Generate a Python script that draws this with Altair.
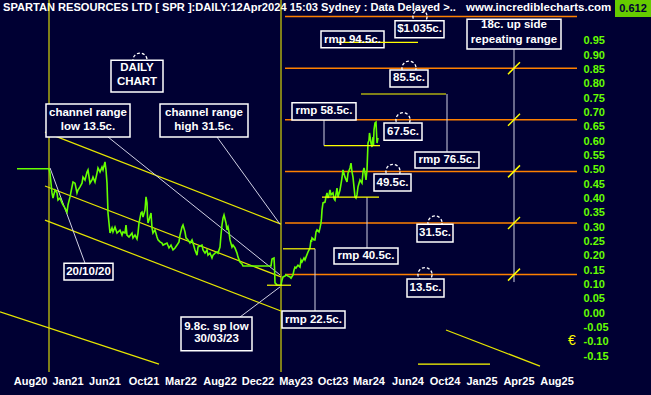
import altair as alt
import pandas as pd

BG = "#000033"
GREEN = "#66FF00"
YELLOW = "#FFFF00"
ORANGE = "#FF8000"
WHITE = "#FFFFFF"
GREY = "#D0D0E4"
FONT = "Liberation Sans"

W, H = 578, 372
xs = alt.Scale(domain=[0, 578], nice=False, zero=False)
ys = alt.Scale(domain=[-0.2047, 1.0928], nice=False, zero=False)

# ---------------- data ----------------
title_text = "SPARTAN RESOURCES LTD [ SPR ]:DAILY:12Apr2024 15:03 Sydney : Data Delayed >.."
site_text = "www.incrediblecharts.com"
last_price = "0.612"

# x axis (bar position -> month label)
xtick_pos = [30.6, 68, 105, 144, 181, 220, 258, 296, 333, 369, 408, 445, 482, 519, 557]
xtick_lab = ["Aug20", "Jan21", "Jun21", "Oct21", "Mar22", "Aug22", "Dec22", "May23",
             "Oct23", "Mar24", "Jun24", "Oct24", "Jan25", "Apr25", "Aug25"]
ytick_vals = [-0.15, -0.10, -0.05, 0.00, 0.05, 0.10, 0.15, 0.20, 0.25, 0.30, 0.35, 0.40,
              0.45, 0.50, 0.55, 0.60, 0.65, 0.70, 0.75, 0.80, 0.85, 0.90, 0.95]

# price series (bar position, close)
bars = [17, 49, 50, 52, 53, 55, 57, 58, 60, 62,
        63, 65, 67, 68, 70, 72, 73, 75, 77, 78,
        80, 82, 83, 85, 87, 88, 90, 92, 93, 95,
        97, 98, 100, 102, 103, 105, 106, 107, 108, 109,
        110, 112, 113, 115, 117, 120, 122, 123, 125, 126,
        127, 129, 132, 133, 135, 137, 138, 139, 141, 142,
        143, 145, 146, 147, 147.5, 148, 149, 151, 152, 153,
        155, 157, 158, 160, 162, 163, 167, 169, 171, 173,
        175, 177, 179, 180, 182, 183, 185, 186, 188, 190,
        192, 193, 195, 197, 198, 200, 202, 203, 205, 207,
        208, 210, 212, 213, 215, 217, 218, 220, 221, 222,
        223, 224, 226, 227, 228, 229, 230, 232, 233, 235,
        237, 238, 240, 242, 243, 271, 272, 274, 274.5, 275,
        277, 279, 281, 282, 283, 285, 286, 288, 290, 291,
        293, 294, 295, 296, 298, 300, 301, 302, 304, 305,
        306, 308, 310, 311, 311.5, 312, 314, 315, 316, 317,
        319, 320, 321, 321.5, 322, 323, 325, 326, 327, 328,
        329, 330, 331, 333, 334, 335, 337, 338, 340, 342,
        343, 345, 347, 348, 350, 351, 352, 353, 355, 356,
        357, 358, 360, 362, 363, 364, 365, 366, 367, 368,
        369, 369.5, 371, 372, 373, 373.5, 374, 375, 376, 377, 378]
close = [0.504, 0.504, 0.489, 0.420, 0.402, 0.430, 0.420, 0.395, 0.402, 0.385,
         0.378, 0.367, 0.353, 0.378, 0.406, 0.441, 0.458, 0.454, 0.420, 0.430,
         0.441, 0.454, 0.475, 0.465, 0.493, 0.500, 0.454, 0.465, 0.475, 0.458,
         0.489, 0.507, 0.493, 0.510, 0.500, 0.528, 0.500, 0.454, 0.350, 0.315,
         0.280, 0.298, 0.284, 0.301, 0.280, 0.290, 0.273, 0.284, 0.280, 0.308,
         0.273, 0.266, 0.280, 0.263, 0.273, 0.259, 0.280, 0.315, 0.350, 0.353,
         0.336, 0.360, 0.406, 0.385, 0.336, 0.315, 0.325, 0.350, 0.298, 0.280,
         0.291, 0.266, 0.256, 0.249, 0.245, 0.238, 0.245, 0.228, 0.238, 0.221,
         0.228, 0.238, 0.249, 0.273, 0.301, 0.308, 0.284, 0.263, 0.256, 0.245,
         0.256, 0.245, 0.221, 0.203, 0.231, 0.235, 0.238, 0.221, 0.210, 0.221,
         0.203, 0.210, 0.193, 0.203, 0.210, 0.214, 0.210, 0.231, 0.273, 0.308,
         0.332, 0.343, 0.315, 0.291, 0.301, 0.284, 0.256, 0.231, 0.238, 0.228,
         0.210, 0.196, 0.179, 0.172, 0.165, 0.165, 0.189, 0.193, 0.161, 0.106,
         0.099, 0.098, 0.099, 0.116, 0.127, 0.130, 0.134, 0.130, 0.127, 0.123,
         0.134, 0.151, 0.161, 0.158, 0.168, 0.161, 0.186, 0.179, 0.193, 0.186,
         0.196, 0.214, 0.228, 0.256, 0.249, 0.263, 0.256, 0.256, 0.284, 0.291,
         0.284, 0.298, 0.315, 0.332, 0.360, 0.385, 0.388, 0.406, 0.420, 0.402,
         0.413, 0.430, 0.413, 0.420, 0.400, 0.395, 0.437, 0.406, 0.430, 0.472,
         0.500, 0.475, 0.458, 0.489, 0.507, 0.524, 0.493, 0.475, 0.406, 0.402,
         0.413, 0.441, 0.465, 0.454, 0.493, 0.507, 0.489, 0.465, 0.500, 0.594,
         0.604, 0.629, 0.594, 0.580, 0.615, 0.587, 0.640, 0.664, 0.667, 0.594, 0.612]

# repeating 18c range levels (orange)
levels = [0.135, 0.315, 0.495, 0.675, 0.855, 1.035]
level_x1, level_x2 = 285, 577

# yellow vertical markers (20/10/20 and 30/03/23)
vmarks = [49, 281]

# yellow trend / channel lines: x1, y1, x2, y2
chan_x1 = [45, 45, 45, 0, 446]
chan_y1 = [0.632, 0.444, 0.325, 0.005, -0.058]
chan_x2 = [281, 281, 281, 159, 540]
chan_y2 = [0.311, 0.127, 0.008, -0.177, -0.184]

# yellow short horizontal lines (sp low and rmp levels)
hl_x1 = [267, 283, 322, 324, 361, 338, 418]
hl_x2 = [291, 315, 379, 380, 446, 418, 490]
hl_y = [0.098, 0.225, 0.405, 0.585, 0.765, 0.945, -0.177]

# white connector lines
con_x1 = [50, 108, 217, 240, 315, 367, 324, 447, 514]
con_y1 = [0.507, 0.615, 0.615, -0.013, 0.225, 0.405, 0.674, 0.765, 0.922]
con_x2 = [85, 280, 280, 280, 315, 367, 324, 447, 514]
con_y2 = [0.175, 0.134, 0.311, 0.092, 0.008, 0.228, 0.585, 0.563, 0.109]

# dashed circles
circ_x = [140, 420, 409, 403, 393, 435, 425]
circ_y = [0.883, 1.035, 0.855, 0.675, 0.495, 0.315, 0.135]

# slash marks on the repeating-range line
slash_x = 514
slash_y = [0.135, 0.315, 0.495, 0.675, 0.855]

# annotation boxes
box_x1 = [111, 46, 160, 64, 181, 282, 334, 407, 417, 374, 384, 415, 292, 390, 321, 395, 467]
box_x2 = [163, 130, 248, 113, 252, 345, 398, 444, 453, 411, 422, 479, 356, 428, 384, 444, 561]
box_yt = [0.883, 0.730, 0.730, 0.175, -0.013, 0.008, 0.228, 0.120, 0.311, 0.486, 0.664,
          0.563, 0.734, 0.849, 0.985, 1.020, 1.026]
box_yb = [0.772, 0.615, 0.615, 0.116, -0.131, -0.051, 0.172, 0.057, 0.249, 0.427, 0.604,
          0.507, 0.674, 0.789, 0.926, 0.961, 0.922]

# annotation texts
note_x = [137, 137, 88, 88, 204, 204, 88.5, 216.5, 216.5, 313.5, 366, 425.5, 435, 392.5,
          403, 447, 324, 409, 352.5, 419.5, 514, 514]
note_y = [0.856, 0.807, 0.699, 0.650, 0.699, 0.650, 0.144, -0.048, -0.090, -0.023, 0.200,
          0.088, 0.280, 0.456, 0.634, 0.535, 0.704, 0.819, 0.955, 0.990, 1.006, 0.953]
note_t = ["DAILY", "CHART", "channel range", "low 13.5c.", "channel range", "high 31.5c.",
          "20/10/20", "9.8c. sp low", "30/03/23", "rmp 22.5c.", "rmp 40.5c.", "13.5c.",
          "31.5c.", "49.5c.", "67.5c.", "rmp 76.5c.", "rmp 58.5c.", "85.5c.", "rmp 94.5c.",
          "$1.035c.", "18c. up side", "repeating range"]

# ---------------- chart ----------------
YAX = alt.Axis(orient="right", values=ytick_vals, title=None, grid=False, domain=False,
               ticks=False, labelPadding=5, labelColor=GREEN, labelFont=FONT,
               labelFontWeight="bold", labelFontSize=11, labelOverlap=False,
               labelFlush=False,
               labelExpr="(datum.value < -0.001 ? '-' : '') + format(abs(datum.value), '.2f')")


def X(field):
    return alt.X(field, scale=xs, axis=None)


def Y(field):
    return alt.Y(field, scale=ys, axis=YAX)


def segs(x1, y1, x2, y2, color, width=1.0):
    df = pd.DataFrame({"x1": x1, "y1": y1, "x2": x2, "y2": y2})
    return alt.Chart(df).mark_rule(color=color, strokeWidth=width).encode(
        x=X("x1:Q"), y=Y("y1:Q"), x2="x2:Q", y2="y2:Q")


hdr = pd.DataFrame({"t": [title_text]})
title = alt.Chart(hdr).mark_text(font=FONT, fontWeight="bold", fontSize=11.1, color=WHITE,
                                 align="left", baseline="middle").encode(
    x=alt.value(3), y=alt.value(8), text="t:N")
site = alt.Chart(pd.DataFrame({"t": [site_text]})).mark_text(
    font=FONT, fontWeight="bold", fontSize=11.5, color=WHITE, align="left",
    baseline="middle").encode(x=alt.value(466), y=alt.value(8), text="t:N")

orange = segs([level_x1] * len(levels), levels, [level_x2] * len(levels), levels, ORANGE, 1.5)
verts = alt.Chart(pd.DataFrame({"x": vmarks})).mark_rule(color=YELLOW, strokeWidth=1).encode(
    x=X("x:Q"))
chan = segs(chan_x1, chan_y1, chan_x2, chan_y2, "#E6E600", 1.2)
conn = segs(con_x1, con_y1, con_x2, con_y2, GREY, 1)

price = alt.Chart(pd.DataFrame({"bar": bars, "close": close})).mark_line(
    color=GREEN, strokeWidth=1.6).encode(x=X("bar:Q"), y=Y("close:Q"), order="bar:Q")

circles = alt.Chart(pd.DataFrame({"x": circ_x, "y": circ_y})).mark_point(
    shape="circle", filled=False, size=200, color=WHITE, strokeWidth=1.3,
    strokeDash=[3, 2], opacity=1).encode(x=X("x:Q"), y=Y("y:Q"))

boxes = alt.Chart(pd.DataFrame({"x1": box_x1, "x2": box_x2, "yt": box_yt, "yb": box_yb})).mark_rect(
    fill=BG, stroke=WHITE, strokeWidth=1.5).encode(
    x=X("x1:Q"), x2="x2:Q", y=Y("yt:Q"), y2="yb:Q")

hlines = segs(hl_x1, hl_y, hl_x2, hl_y, YELLOW, 1.2)

notes = alt.Chart(pd.DataFrame({"x": note_x, "y": note_y, "t": note_t})).mark_text(
    font=FONT, fontWeight="bold", fontSize=11.5, color=WHITE, align="center",
    baseline="middle").encode(x=X("x:Q"), y=Y("y:Q"), text="t:N")

slashes = alt.Chart(pd.DataFrame({"x": [slash_x] * len(slash_y), "y": slash_y})).mark_point(
    shape="M -1 1 L 1 -1", size=144, filled=False, color=YELLOW, strokeWidth=1.5,
    opacity=1).encode(x=X("x:Q"), y=Y("y:Q"))

euro = alt.Chart(pd.DataFrame({"x": [572], "y": [-0.095], "t": ["€"]})).mark_text(
    font=FONT, fontSize=14, color=YELLOW, align="center", baseline="middle").encode(
    x=X("x:Q"), y=Y("y:Q"), text="t:N")

xlabels = alt.Chart(pd.DataFrame({"pos": xtick_pos, "lab": xtick_lab})).mark_text(
    font=FONT, fontWeight="bold", fontSize=11, color=WHITE, align="center",
    baseline="middle").encode(x=X("pos:Q"), y=alt.value(382), text="lab:N")

lp_box = alt.Chart(pd.DataFrame({"t": [last_price]})).mark_rect(color="#66CC00").encode(
    x=alt.value(615), x2=alt.value(651), y=alt.value(0), y2=alt.value(17))
lp_txt = alt.Chart(pd.DataFrame({"t": [last_price]})).mark_text(
    font=FONT, fontWeight="bold", fontSize=11, color="#000033", align="center",
    baseline="middle").encode(x=alt.value(633), y=alt.value(9), text="t:N")

chart = alt.layer(
    title, site, orange, verts, chan, conn, price, circles, boxes, hlines, notes,
    slashes, euro, xlabels, lp_box, lp_txt
).properties(
    width=W, height=H,
    padding={"left": 0, "top": 0, "right": 73, "bottom": 23},
    autosize=alt.AutoSizeParams(type="none"),
    background=BG,
).configure_view(stroke=None)

chart.save("out.html", embed_options={"renderer": "svg", "actions": False})
